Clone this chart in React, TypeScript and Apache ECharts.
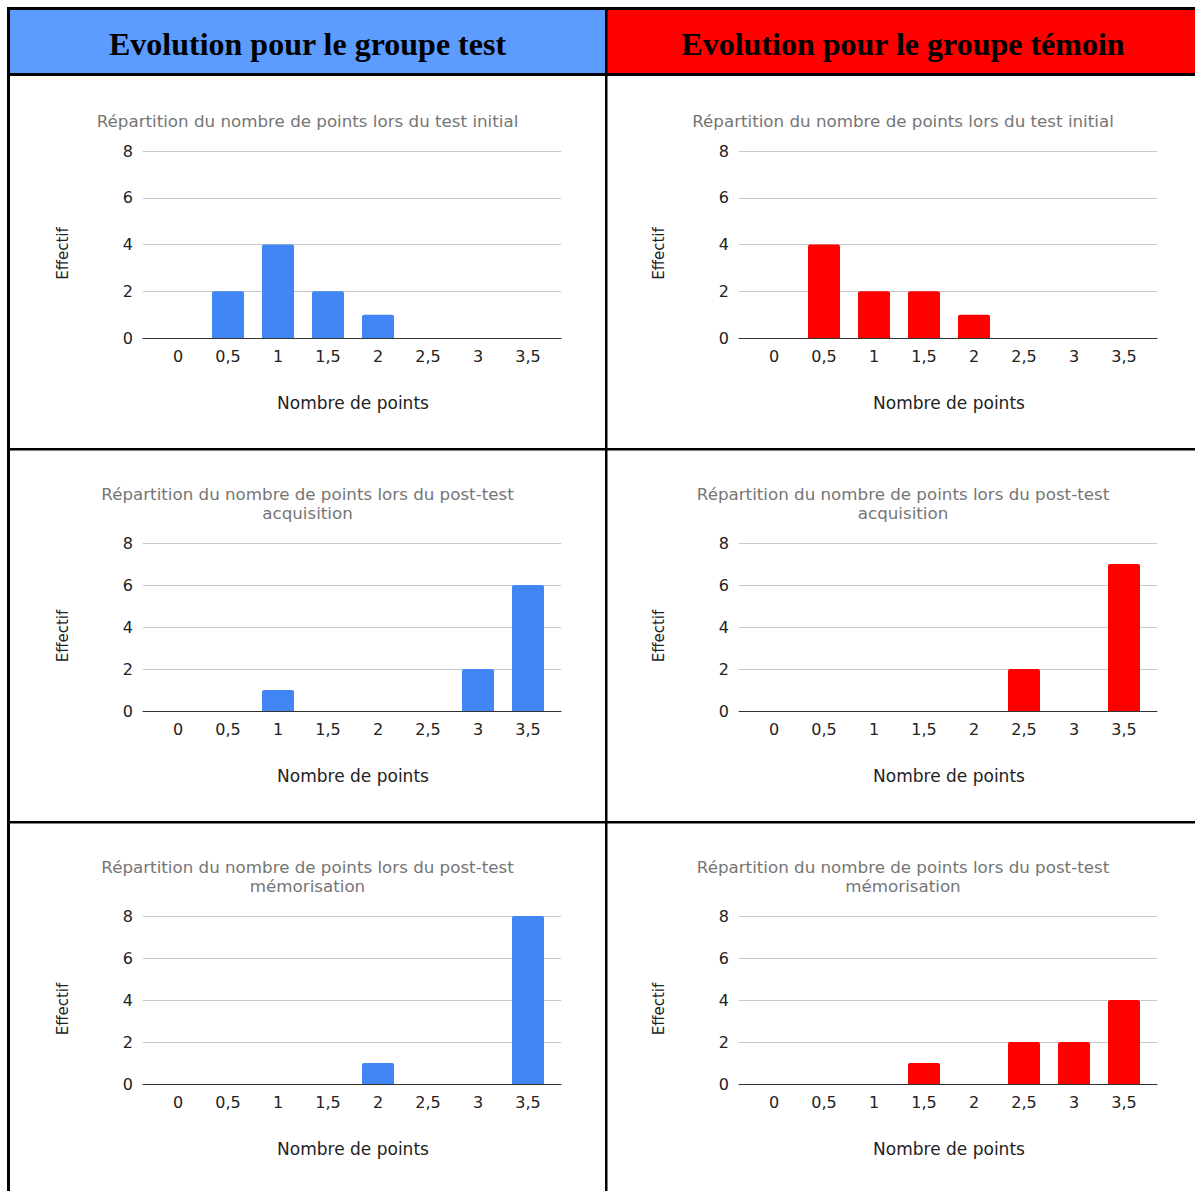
import React, { useEffect, useRef } from "react";
import * as echarts from "echarts";

const categories = ["0", "0,5", "1", "1,5", "2", "2,5", "3", "3,5"];
const yMin = 0;
const yMax = 8;
const yInterval = 2;

const testInitial = [0, 2, 4, 2, 1, 0, 0, 0];
const temoinInitial = [0, 4, 2, 2, 1, 0, 0, 0];
const testAcquisition = [0, 0, 1, 0, 0, 0, 2, 6];
const temoinAcquisition = [0, 0, 0, 0, 0, 2, 0, 7];
const testMemorisation = [0, 0, 0, 0, 1, 0, 0, 8];
const temoinMemorisation = [0, 0, 0, 1, 0, 2, 2, 4];

const headerTest = "Evolution pour le groupe test";
const headerTemoin = "Evolution pour le groupe témoin";
const titleInitial = "Répartition du nombre de points lors du test initial";
const titleAcquisition = "Répartition du nombre de points lors du post-test\nacquisition";
const titleMemorisation = "Répartition du nombre de points lors du post-test\nmémorisation";
const xName = "Nombre de points";
const yName = "Effectif";

const FONT = '"DejaVu Sans", "Liberation Sans", Arial, sans-serif';
const SERIF = '"Liberation Serif", "Times New Roman", serif';

const BLUE = "#4285f4";
const RED = "#ff0000";

const rows = [
  { top: 151, height: 187, titleTop: 111.5, title: titleInitial, data: [testInitial, temoinInitial] },
  { top: 543, height: 168, titleTop: 484.5, title: titleAcquisition, data: [testAcquisition, temoinAcquisition] },
  { top: 916, height: 168, titleTop: 857.5, title: titleMemorisation, data: [testMemorisation, temoinMemorisation] },
];
const cols = [
  { off: 0, center: 307.5, color: BLUE },
  { off: 596, center: 903, color: RED },
];

function buildOption() {
  const grid: any[] = [];
  const xAxis: any[] = [];
  const yAxis: any[] = [];
  const series: any[] = [];
  const title: any[] = [];
  const graphic: any[] = [];

  // header backgrounds
  graphic.push({ type: "rect", shape: { x: 10, y: 10, width: 595, height: 63 }, style: { fill: "#5c9cff" }, z: 0 });
  graphic.push({ type: "rect", shape: { x: 607, y: 10, width: 590, height: 63 }, style: { fill: "#ff0000" }, z: 0 });
  graphic.push({
    type: "text", x: 307.5, y: 44, z: 5,
    style: { text: headerTest, font: `bold 32px ${SERIF}`, fill: "#000", align: "center", verticalAlign: "middle" },
  });
  graphic.push({
    type: "text", x: 903, y: 44, z: 5,
    style: { text: headerTemoin, font: `bold 32px ${SERIF}`, fill: "#000", align: "center", verticalAlign: "middle" },
  });

  let idx = 0;
  rows.forEach((row) => {
    cols.forEach((col, ci) => {
      const a = idx * 2;
      const b = idx * 2 + 1;
      grid.push({ left: 143 + col.off, top: row.top, width: 418, height: row.height, containLabel: false });
      grid.push({ left: 153 + col.off, top: row.top, width: 400, height: row.height, containLabel: false });
      xAxis.push({
        gridIndex: a, type: "category", data: categories,
        axisLine: { show: true, lineStyle: { color: "#333", width: 1 } },
        axisTick: { show: false }, axisLabel: { show: false }, splitLine: { show: false },
      });
      xAxis.push({
        gridIndex: b, type: "category", data: categories,
        axisLine: { show: false }, axisTick: { show: false },
        axisLabel: { margin: 10, fontSize: 16, color: "#222", fontFamily: FONT },
        name: xName, nameLocation: "middle", nameGap: 56,
        nameTextStyle: { fontSize: 17, color: "#222", fontFamily: FONT },
      });
      yAxis.push({
        gridIndex: a, type: "value", min: yMin, max: yMax, interval: yInterval,
        axisLine: { show: false }, axisTick: { show: false },
        splitLine: { show: true, lineStyle: { color: "#c8c8c8", width: 1 } },
        axisLabel: { margin: 10, fontSize: 16, color: "#222", fontFamily: FONT },
      });
      yAxis.push({
        gridIndex: b, type: "value", min: yMin, max: yMax, interval: yInterval, show: false,
        splitLine: { show: false },
      });
      series.push({
        type: "bar", xAxisIndex: b, yAxisIndex: b, data: row.data[ci], barWidth: 32,
        itemStyle: { color: col.color, borderRadius: [2, 2, 0, 0] },
      });
      title.push({
        text: row.title, left: col.center, top: row.titleTop, textAlign: "center", padding: 0,
        textStyle: { fontSize: 16.7, fontWeight: "normal", color: "#757575", fontFamily: FONT, lineHeight: 19 },
      });
      graphic.push({
        type: "text", x: 63 + col.off, y: row.top + (row.height + 18) / 2, rotation: Math.PI / 2, z: 5,
        style: { text: yName, font: `15px ${FONT}`, fill: "#222", align: "center", verticalAlign: "middle" },
      });
      idx++;
    });
  });

  // table borders
  const borders = [
    { x: 7, y: 7, width: 1190, height: 3 },
    { x: 7, y: 73, width: 1190, height: 3 },
    { x: 7, y: 448, width: 1190, height: 2.5 },
    { x: 7, y: 821, width: 1190, height: 2.5 },
    { x: 7, y: 7, width: 3, height: 1190 },
    { x: 605, y: 7, width: 2.5, height: 1190 },
  ];
  borders.forEach((r) => graphic.push({ type: "rect", shape: r, style: { fill: "#000" }, z: 10 }));

  return {
    animation: false,
    backgroundColor: "#ffffff",
    textStyle: { fontFamily: FONT },
    title, grid, xAxis, yAxis, series, graphic,
  };
}

export default function App() {
  const ref = useRef<HTMLDivElement>(null);
  useEffect(() => {
    if (!ref.current) return;
    const chart = echarts.init(ref.current, null, { renderer: "svg" });
    chart.setOption(buildOption() as any);
    return () => chart.dispose();
  }, []);
  return (
    <div
      ref={ref}
      style={{ position: "fixed", left: 0, top: 0, width: 1195, height: 1191, background: "#fff" }}
    />
  );
}
